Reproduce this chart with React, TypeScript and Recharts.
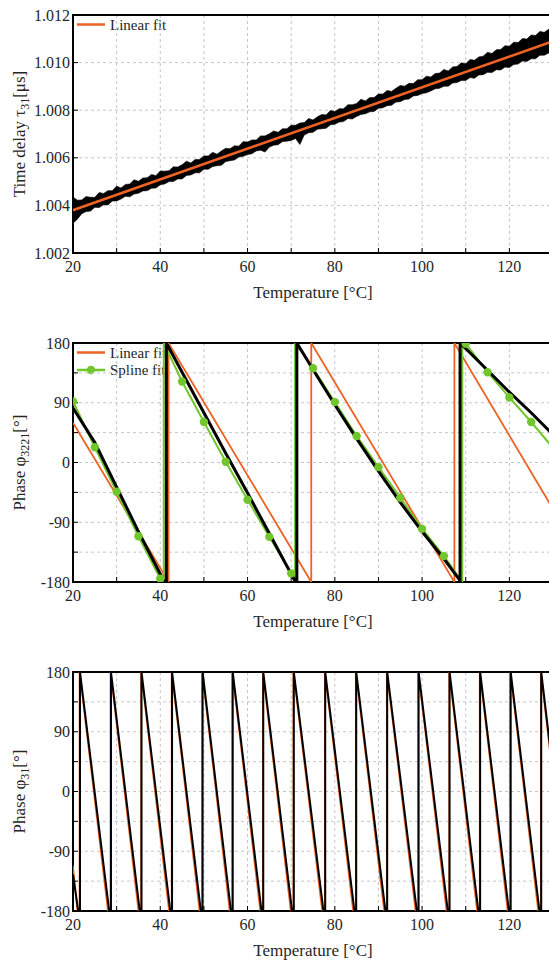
import React from 'react';
import { ComposedChart, Line, Area, XAxis, YAxis, CartesianGrid, ReferenceArea } from 'recharts';

const ORANGE = '#ee6223';
const GREEN = '#70c62a';
const INK = '#262626';
const FONT = "'Liberation Serif', 'DejaVu Serif', serif";

const TEMP_TICKS = [20, 30, 40, 50, 60, 70, 80, 90, 100, 110, 120, 130];

// --- panel 1: time delay tau31 [us], black band sampled every 1 °C from 20 °C
const TAU_T0 = 20;
const TAU_HI = [
  1.00435, 1.00422, 1.00423, 1.00437, 1.00434, 1.00434, 1.00454, 1.0045, 1.00462, 1.00462,
  1.00481, 1.00473, 1.00488, 1.0049, 1.00508, 1.00501, 1.00515, 1.00516, 1.0053, 1.00525,
  1.00545, 1.00544, 1.00546, 1.00562, 1.00561, 1.00571, 1.00586, 1.00578, 1.00593, 1.00593,
  1.00608, 1.00608, 1.00623, 1.00615, 1.00629, 1.0064, 1.00638, 1.00651, 1.00649, 1.00668,
  1.00666, 1.00675, 1.00675, 1.00692, 1.00692, 1.00701, 1.00713, 1.00707, 1.00722, 1.00722,
  1.00737, 1.00737, 1.00746, 1.00748, 1.00765, 1.00759, 1.00772, 1.00782, 1.0078, 1.00799,
  1.00795, 1.00806, 1.00806, 1.00823, 1.00823, 1.00828, 1.00846, 1.00839, 1.00853, 1.00853,
  1.00868, 1.00868, 1.00883, 1.00879, 1.00892, 1.00904, 1.00901, 1.00913, 1.00912, 1.00928,
  1.00928, 1.00943, 1.00939, 1.00954, 1.00956, 1.00971, 1.00965, 1.00982, 1.00984, 1.00999,
  1.00995, 1.01013, 1.0101, 1.01024, 1.01027, 1.01043, 1.01038, 1.01054, 1.01055, 1.01071,
  1.01069, 1.01086, 1.01084, 1.01101, 1.01099, 1.01116, 1.01114, 1.01131, 1.01127, 1.0114,
  1.01142,
];
const TAU_LO = [
  1.00325, 1.00342, 1.00365, 1.00374, 1.00376, 1.00392, 1.00391, 1.00403, 1.00402, 1.00418,
  1.00419, 1.00427, 1.00438, 1.00436, 1.00448, 1.00451, 1.00461, 1.00462, 1.00472, 1.00473,
  1.00487, 1.0049, 1.005, 1.005, 1.00511, 1.00511, 1.00526, 1.00528, 1.00537, 1.00537,
  1.00552, 1.00552, 1.00563, 1.00567, 1.00569, 1.00584, 1.00588, 1.00591, 1.00603, 1.00606,
  1.00614, 1.00617, 1.00629, 1.00632, 1.00624, 1.00645, 1.00653, 1.00655, 1.00668, 1.0067,
  1.00673, 1.00681, 1.00656, 1.00696, 1.00705, 1.00707, 1.0072, 1.00722, 1.00724, 1.00739,
  1.00741, 1.0075, 1.00752, 1.00765, 1.00763, 1.00774, 1.00782, 1.00785, 1.00793, 1.00795,
  1.00808, 1.0081, 1.00819, 1.00821, 1.00834, 1.00836, 1.00845, 1.00847, 1.0086, 1.00862,
  1.0087, 1.00873, 1.00881, 1.0089, 1.00892, 1.00901, 1.00901, 1.00914, 1.00916, 1.00925,
  1.00925, 1.00937, 1.00934, 1.00948, 1.00949, 1.00959, 1.00958, 1.0097, 1.00969, 1.00981,
  1.00979, 1.00992, 1.00994, 1.01007, 1.01005, 1.01016, 1.01016, 1.01031, 1.01031, 1.0104,
  1.01042,
];
const TAU_FIT_T = [20, 130];
const TAU_FIT = [1.0038, 1.0109];

// --- panel 2: phase phi3221 [deg]
const PHI3221_T = [20, 25, 30, 35, 40, 40.9, 41.4, 41.4, 45, 50, 55, 60, 65, 70, 71, 71.3, 71.3,
  75, 80, 85, 90, 95, 100, 105, 108.5, 108.7, 108.7, 115, 120, 125, 130];
const PHI3221 = [82, 30, -37, -104, -168, -180, -180, 180, 136, 75, 14, -46, -107, -168, -180, -180, 180,
  140, 87, 36, -13, -60, -104, -145, -176, -180, 180, 139, 106, 75, 42];
const SPLINE_T = [20, 25, 30, 35, 40, 40.8, 40.8, 45, 50, 55, 60, 65, 70, 70.9, 70.9,
  75, 80, 85, 90, 95, 100, 105, 109.2, 109.2, 110, 115, 120, 125, 130];
const SPLINE = [92, 23, -44, -111, -175, -180, 180, 122, 61, 1, -56, -112, -167, -180, 180,
  142, 91, 40, -7, -53, -100, -141, -180, 180, 179, 136, 98, 61, 22];
const LIN3221_T = [20, 41.9, 41.9, 74.6, 74.6, 107.4, 107.4, 130];
const LIN3221 = [60, -180, 180, -180, 180, -180, 180, -70];

// --- panel 3: phase phi31 [deg], ramps reach -180 at BOTTOM then wrap at JUMP
const PHI31_START = -125;
const PHI31_END = 30;
const PHI31_BOTTOM = [21.2, 28.3, 35.3, 42.3, 49.3, 56.2, 63.2, 70.2, 77.4, 84.5, 91.6, 98.8, 105.9, 112.9, 119.9, 126.9];
const PHI31_JUMP = [21.6, 28.7, 35.7, 42.7, 49.7, 56.6, 63.6, 70.6, 77.8, 84.9, 92.0, 99.2, 106.3, 113.3, 120.3, 127.3];
const FIT31_START = -112;
const FIT31_END = 20;
const FIT31_BOTTOM = [21.0, 28.0, 35.0, 42.0, 49.0, 55.9, 62.9, 69.9, 77.1, 84.2, 91.3, 98.5, 105.6, 112.6, 119.6, 126.6];
const FIT31_JUMP = [21.5, 28.6, 35.6, 42.6, 49.6, 56.5, 63.5, 70.5, 77.7, 84.8, 91.9, 99.1, 106.2, 113.2, 120.2, 127.2];

const PHASE_TICKS = [-180, -135, -90, -45, 0, 45, 90, 135, 180];
const TAU_TICKS = [1.002, 1.004, 1.006, 1.008, 1.01, 1.012];

const zip = (ts: number[], vs: number[]) => ts.map((t, i) => ({ t, v: vs[i] }));

const sawtooth = (start: number, bottoms: number[], jumps: number[], end: number) => {
  const pts = [{ t: 20, v: start }];
  jumps.forEach((j, i) => {
    pts.push({ t: bottoms[i], v: -180 }, { t: j, v: -180 }, { t: j, v: 180 });
  });
  pts.push({ t: 130, v: end });
  return pts;
};

const tauBand = TAU_HI.map((hi, i) => ({ t: TAU_T0 + i, band: [TAU_LO[i], hi] }));
const tauFit = zip(TAU_FIT_T, TAU_FIT);
const phi3221 = zip(PHI3221_T, PHI3221);
const spline = zip(SPLINE_T, SPLINE);
const lin3221 = zip(LIN3221_T, LIN3221);
const phi31 = sawtooth(PHI31_START, PHI31_BOTTOM, PHI31_JUMP, PHI31_END);
const fit31 = sawtooth(FIT31_START, FIT31_BOTTOM, FIT31_JUMP, FIT31_END);

const CHART_W = 573;
const PLOT_LEFT = 73;
const TOP_PAD = 20;
const AXIS_H = 60;

function YTitle({ cy, main, sub, tail }: any) {
  const x = 24.5;
  return (
    <text x={x} y={cy} transform={`rotate(-90 ${x} ${cy})`} textAnchor="middle" fill={INK} fontSize={17} style={{ fontFamily: FONT }}>
      {main}
      <tspan fontSize={12} dy={4}>{sub}</tspan>
      <tspan dy={-4}>{tail}</tspan>
    </text>
  );
}

function Panel({ top, plotH, yDomain, yTicks, yFormat, title, children }: any) {
  const tickStyle = { fill: INK, fontSize: 16, style: { fontFamily: FONT } };
  return (
    <div style={{ position: 'absolute', left: 0, top: top - TOP_PAD }}>
      <ComposedChart
        width={CHART_W}
        height={TOP_PAD + plotH + AXIS_H}
        margin={{ top: TOP_PAD, right: 20, bottom: 0, left: 0 }}
        style={{ fontFamily: FONT }}
      >
        <CartesianGrid stroke="#c6c6c6" strokeDasharray="3 3" />
        <XAxis
          type="number"
          dataKey="t"
          domain={[20, 130]}
          ticks={TEMP_TICKS}
          interval={0}
          allowDataOverflow
          tickFormatter={(v: number) => (v % 20 === 0 ? String(v) : '')}
          height={AXIS_H}
          axisLine={false}
          tickSize={-5}
          tickMargin={13}
          tickLine={{ stroke: '#000' }}
          tick={tickStyle}
          label={{ value: 'Temperature [°C]', position: 'insideBottom', offset: 15, fill: INK, fontSize: 17, style: { fontFamily: FONT } }}
        />
        <YAxis
          type="number"
          domain={yDomain}
          ticks={yTicks}
          interval={0}
          allowDataOverflow
          tickFormatter={yFormat}
          width={PLOT_LEFT}
          axisLine={false}
          tickSize={-5}
          tickMargin={8}
          tickLine={{ stroke: '#000' }}
          tick={tickStyle}
          label={<YTitle cy={TOP_PAD + plotH / 2} {...title} />}
        />
        {children}
        <ReferenceArea x1={20} x2={130} y1={yDomain[0]} y2={yDomain[1]} fill="none" stroke="#000" strokeWidth={2} ifOverflow="visible" />
      </ComposedChart>
    </div>
  );
}

const phaseFormat = (v: number) => (v % 90 === 0 ? String(v) : '');

function Legends() {
  return (
    <svg width={549} height={960} style={{ position: 'absolute', left: 0, top: 0 }}>
      <g fontSize={15} fill={INK} style={{ fontFamily: FONT }}>
        <line x1={77} x2={105} y1={24.5} y2={24.5} stroke={ORANGE} strokeWidth={2.5} />
        <text x={110} y={29.5}>Linear fit</text>
        <line x1={77} x2={105} y1={352.5} y2={352.5} stroke={ORANGE} strokeWidth={2.5} />
        <text x={110} y={357.5}>Linear fit</text>
        <line x1={77} x2={105} y1={370} y2={370} stroke={GREEN} strokeWidth={2.5} />
        <circle cx={91} cy={370} r={4.2} fill={GREEN} />
        <text x={110} y={375}>Spline fit</text>
      </g>
    </svg>
  );
}

export default function App() {
  return (
    <div style={{ position: 'absolute', left: 0, top: 0, width: 549, height: 960, overflow: 'hidden', background: '#fff', fontFamily: FONT }}>
      <Legends />
      <Panel
        top={15}
        plotH={238}
        yDomain={[1.002, 1.012]}
        yTicks={TAU_TICKS}
        yFormat={(v: number) => v.toFixed(3)}
        title={{ main: 'Time delay τ', sub: '31', tail: '[μs]' }}
      >
        <Area data={tauBand} dataKey="band" type="linear" stroke="#000" strokeWidth={0.6} fill="#000" fillOpacity={1} isAnimationActive={false} activeDot={false} />
        <Line data={tauFit} dataKey="v" type="linear" stroke={ORANGE} strokeWidth={2.6} dot={false} activeDot={false} isAnimationActive={false} />
      </Panel>
      <Panel
        top={343}
        plotH={239}
        yDomain={[-180, 180]}
        yTicks={PHASE_TICKS}
        yFormat={phaseFormat}
        title={{ main: 'Phase φ', sub: '3221', tail: '[°]' }}
      >
        <Line data={lin3221} dataKey="v" type="linear" stroke={ORANGE} strokeWidth={1.8} dot={false} activeDot={false} isAnimationActive={false} />
        <Line
          data={spline}
          dataKey="v"
          type="linear"
          stroke={GREEN}
          strokeWidth={2}
          activeDot={false}
          isAnimationActive={false}
          dot={(p: any) =>
            p.payload.t % 5 === 0 ? (
              <circle key={`k-${p.index}`} cx={p.cx} cy={p.cy} r={4.2} fill={GREEN} stroke="none" />
            ) : (
              <g key={`k-${p.index}`} />
            )
          }
        />
        <Line data={phi3221} dataKey="v" type="linear" stroke="#000" strokeWidth={3} dot={false} activeDot={false} isAnimationActive={false} />
      </Panel>
      <Panel
        top={672}
        plotH={239}
        yDomain={[-180, 180]}
        yTicks={PHASE_TICKS}
        yFormat={phaseFormat}
        title={{ main: 'Phase φ', sub: '31', tail: '[°]' }}
      >
        <Line data={fit31} dataKey="v" type="linear" stroke={ORANGE} strokeWidth={1.6} dot={false} activeDot={false} isAnimationActive={false} />
        <Line data={phi31} dataKey="v" type="linear" stroke="#000" strokeWidth={2} dot={false} activeDot={false} isAnimationActive={false} />
      </Panel>
    </div>
  );
}
